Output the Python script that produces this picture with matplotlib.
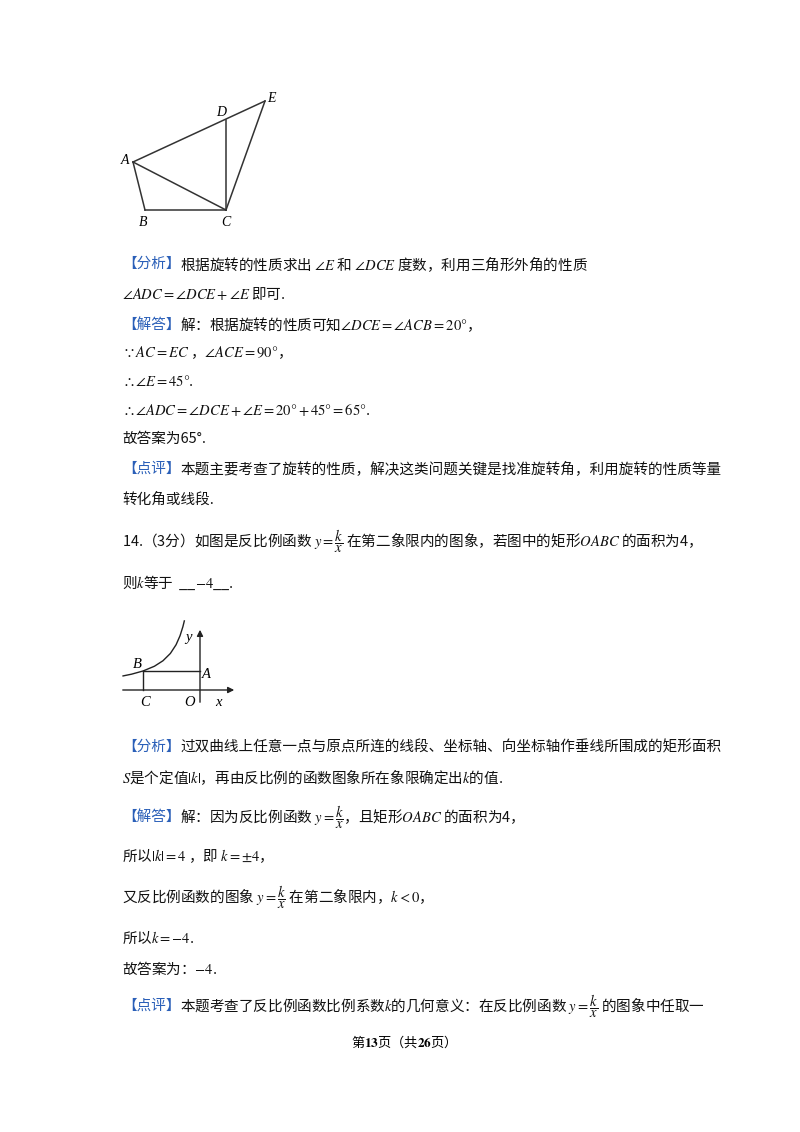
import matplotlib
matplotlib.use("Agg")
import numpy as np
import matplotlib.pyplot as plt

plt.rcParams['font.family'] = ['Noto Sans CJK SC', 'DejaVu Sans']
plt.rcParams['mathtext.fontset'] = 'stix'

W, H = 800, 1132
BLUE = '#2a5fb8'

# diagram 1 points (page pixels)
pts1 = {'A': (133, 162), 'B': (145, 210), 'C': (226, 210), 'D': (226, 120), 'E': (265, 101)}
segs1 = [('A', 'E'), ('A', 'B'), ('B', 'C'), ('A', 'C'), ('D', 'C'), ('E', 'C')]
lab1 = {'A': (-8, -2), 'B': (-2, 12), 'C': (0, 12), 'D': (-5, -8), 'E': (6, -2)}

# diagram 2: y = k/x, k = -1 in local units
k2 = -1.0
origin2 = (200, 690)
ux, uy = 57, 19
curve_x = [-1.35, -1.2, -1.0, -0.8, -0.65, -0.52, -0.42, -0.35, -0.3, -0.275]
bx = -1.0

FR = '$y=\\dfrac{k}{x}$'
# text lines: (x, y, blue label, rest)
lines = [
    (122, 264, '【分析】', '根据旋转的性质求出 $\\angle E$ 和 $\\angle DCE$ 度数，利用三角形外角的性质'),
    (122, 293, '', '$\\angle ADC=\\angle DCE+\\angle E$ 即可.'),
    (122, 325, '【解答】', '解：根据旋转的性质可知$\\angle DCE=\\angle ACB=20°$，'),
    (122, 353, '', '$\\because AC=EC$ ，$\\angle ACE=90°$，'),
    (122, 381, '', '$\\therefore \\angle E=45°$.'),
    (122, 410, '', '$\\therefore \\angle ADC=\\angle DCE+\\angle E=20°+45°=65°$.'),
    (122, 439, '', '故答案为65°.'),
    (122, 469, '【点评】', '本题主要考查了旋转的性质，解决这类问题关键是找准旋转角，利用旋转的性质等量'),
    (122, 500, '', '转化角或线段.'),
    (122, 541, '', '14.（3分）如图是反比例函数 ' + FR + ' 在第二象限内的图象，若图中的矩形$OABC$ 的面积为4，'),
    (122, 583, '', '则$k$等于  __$-4$__.'),
    (122, 747, '【分析】', '过双曲线上任意一点与原点所连的线段、坐标轴、向坐标轴作垂线所围成的矩形面积'),
    (122, 777, '', '$S$是个定值$|k|$，再由反比例的函数图象所在象限确定出$k$的值.'),
    (122, 817, '【解答】', '解：因为反比例函数 ' + FR + '，且矩形$OABC$ 的面积为4，'),
    (122, 856, '', '所以$|k|=4$ ，即 $k=\\pm 4$，'),
    (122, 897, '', '又反比例函数的图象 ' + FR + ' 在第二象限内，$k<0$，'),
    (122, 937, '', '所以$k=-4$.'),
    (122, 968, '', '故答案为：$-4$.'),
    (122, 1006, '【点评】', '本题考查了反比例函数比例系数$k$的几何意义：在反比例函数 ' + FR + ' 的图象中任取一'),
]

fig = plt.figure(figsize=(8, 11.32), dpi=100)
ax = fig.add_axes([0, 0, 1, 1])
ax.set_xlim(0, W)
ax.set_ylim(H, 0)
ax.axis('off')

# diagram 1
for a, b in segs1:
    ax.plot([pts1[a][0], pts1[b][0]], [pts1[a][1], pts1[b][1]], color='#333', lw=1.1)
for n, (x, y) in pts1.items():
    dx, dy = lab1[n]
    ax.text(x + dx, y + dy, n, fontsize=10, family='Liberation Serif', style='italic',
            ha='center', va='center')

# diagram 2
ox, oy = origin2
ax.annotate('', xy=(237, oy), xytext=(120, oy),
            arrowprops=dict(arrowstyle='-|>', color='#222', lw=1, mutation_scale=9))
ax.annotate('', xy=(ox, 627), xytext=(ox, 705),
            arrowprops=dict(arrowstyle='-|>', color='#222', lw=1, mutation_scale=9))
cx = np.array(curve_x)
cy = k2 / cx
ax.plot(ox + cx * ux, oy - cy * uy, color='#222', lw=1)
by = k2 / bx
ax.plot([ox + bx * ux, ox], [oy - by * uy] * 2, color='#222', lw=1)
ax.plot([ox + bx * ux] * 2, [oy - by * uy, oy], color='#222', lw=1)
for t, (x, y) in {'y': (188, 638), 'B': (137, 664), 'A': (206, 674), 'C': (145, 702),
                  'O': (190, 702), 'x': (218, 702)}.items():
    ax.text(x, y, t, fontsize=10.5, family='Liberation Serif', style='italic',
            ha='center', va='center')

# text
for x, y, lab, rest in lines:
    if lab:
        t = ax.text(x, y, lab, fontsize=10.5, color=BLUE, va='center', ha='left')
        fig.canvas.draw()
        bb = t.get_window_extent()
        x = bb.x1
    ax.text(x, y, rest, fontsize=10.5, color='#111', va='center', ha='left')

ax.text(400, 1042, '第$\\mathbf{13}$页（共$\\mathbf{26}$页）', fontsize=9.5, ha='center', va='center')

fig.savefig('out.png', dpi=100)
